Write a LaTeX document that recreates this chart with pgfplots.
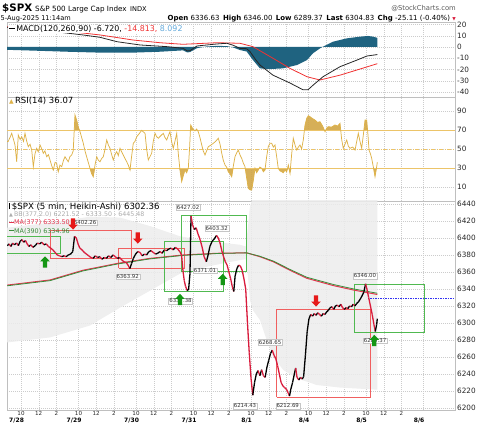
\documentclass[border=0pt]{standalone}
\usepackage{fontspec}
\setmainfont{DejaVu Sans}
\usepackage{pgfplots}
\usepackage{pgfplotstable}
\pgfplotsset{compat=1.18}
\usepgfplotslibrary{fillbetween}

\definecolor{hared}{RGB}{216,27,60}
\definecolor{mared}{RGB}{228,52,78}
\definecolor{magreen}{RGB}{58,140,58}
\definecolor{bbfill}{RGB}{236,236,236}
\definecolor{boxred}{RGB}{240,95,95}
\definecolor{boxgreen}{RGB}{80,185,80}
\definecolor{arrred}{RGB}{230,25,25}
\definecolor{arrgreen}{RGB}{20,150,20}
\definecolor{rsigold}{RGB}{222,178,72}
\definecolor{rsifill}{RGB}{210,166,70}
\definecolor{rsiline}{RGB}{236,196,105}
\definecolor{macdblue}{RGB}{31,99,128}
\definecolor{sigred}{RGB}{240,50,50}
\definecolor{histtxt}{RGB}{100,170,220}
\definecolor{lblue}{RGB}{50,50,240}

\newcommand{\fs}[1]{\fontsize{#1}{#1}\selectfont}

\pgfplotstableread{
x y
-1.085 58
-0.97 57.7
-0.75 62
-0.55 66.5
-0.35 60
-0.18 54.2
0.01 36.6
0.19 64.7
0.4 60
0.58 62.9
0.78 58
0.95 66.5
1.15 58
1.32 52.4
1.52 55
1.71 48.9
1.89 31.4
2.08 45
2.27 50.7
2.45 47
2.65 54.2
2.85 50
3.02 45.5
3.2 48
3.40 41.9
3.6 44
3.78 38.4
3.95 33
4.15 27.9
4.35 36
4.53 34.9
4.71 26.1
4.9 33
5.10 31.4
5.3 38
5.47 41.9
5.66 39
5.84 36.6
6.03 42
6.23 43.7
6.4 48
6.60 85.8
6.79 80.5
6.98 73
7.17 68.2
7.36 62
7.54 56
7.73 48
7.92 41.9
8.1 36
8.30 29.7
8.48 24
8.67 20.8
8.86 33
9.06 41.9
9.25 38
9.43 36.6
9.62 40
9.80 41.9
10.0 50
10.19 59.5
10.38 54
10.56 50.7
10.75 44
10.93 38.4
11.12 44
11.32 47.2
11.5 43
11.69 50.7
11.88 47
12.06 43.7
12.25 40
12.45 36.6
12.63 33
12.82 27.9
13.0 42
13.19 56
13.38 58
13.58 62.9
13.85 66
14.14 69.6
14.33 68
14.52 66.5
14.7 50
14.89 38.4
15.08 42
15.27 45.5
15.45 58
15.65 66.5
15.83 63
16.02 61.3
16.3 64
16.58 66.5
16.78 62
16.97 59.5
17.15 64
17.34 68.2
17.52 58
17.71 50.7
17.9 58
18.10 66.5
18.28 45
18.47 27.9
18.66 15.6
18.85 22
19.04 27.9
19.22 25
19.41 29.7
19.55 50
19.68 75.3
19.9 71.5
20.17 69
20.35 71
20.54 68.2
20.73 62
20.93 54.2
21.1 48
21.30 43.7
21.48 48
21.67 52.4
21.95 54
22.24 56
22.5 58
22.80 61.3
23.0 55
23.19 45.5
23.37 38
23.56 33.2
23.75 30.8
23.93 26.1
24.12 24
24.32 20.8
24.5 32
24.69 41.9
24.88 46
25.06 48.9
25.26 43.7
25.45 40
25.64 35
25.82 31.4
26.0 20
26.19 8.6
26.4 7
26.58 6.8
26.78 18
26.95 29.7
27.13 25
27.32 27.9
27.5 31
27.71 29.7
27.9 26
28.08 27.9
28.27 42
28.45 52.4
28.65 56
28.84 56
29.02 52
29.21 54.2
29.4 42
29.58 29.7
29.78 27
29.97 26.1
30.15 25
30.34 27.9
30.53 26
30.72 33.2
30.91 24.4
31.1 45
31.28 61.3
31.48 54
31.67 48.9
31.85 52
32.04 54.2
32.22 50
32.41 59.5
32.6 75
32.80 82.3
32.98 85
33.17 84
33.45 82
33.73 80.5
34.0 78
34.30 78.7
34.6 74
34.87 68.2
35.05 72
35.24 73.5
35.6 73
36.0 75.3
36.28 74
36.56 77
36.75 60
36.93 50.7
37.12 55
37.32 59.5
37.5 53
37.69 50.7
38.0 52
38.26 48.9
38.45 58
38.63 66.5
38.82 58
39.01 50.7
39.2 65
39.39 80.5
39.58 80.5
39.72 65
39.84 48.9
40.0 45
40.14 40.2
40.33 31
40.52 20.8
40.65 28
40.78 36.07
}\rsitable

\pgfdeclareplotmark{uarr}{%
  \pgfpathmoveto{\pgfqpoint{0pt}{5.6pt}}%
  \pgfpathlineto{\pgfqpoint{4.8pt}{0.6pt}}%
  \pgfpathlineto{\pgfqpoint{2.1pt}{0.6pt}}%
  \pgfpathlineto{\pgfqpoint{2.1pt}{-5.6pt}}%
  \pgfpathlineto{\pgfqpoint{-2.1pt}{-5.6pt}}%
  \pgfpathlineto{\pgfqpoint{-2.1pt}{0.6pt}}%
  \pgfpathlineto{\pgfqpoint{-4.8pt}{0.6pt}}%
  \pgfpathclose\pgfusepathqfill}
\pgfdeclareplotmark{darr}{%
  \pgfpathmoveto{\pgfqpoint{0pt}{-5.6pt}}%
  \pgfpathlineto{\pgfqpoint{4.8pt}{-0.6pt}}%
  \pgfpathlineto{\pgfqpoint{2.1pt}{-0.6pt}}%
  \pgfpathlineto{\pgfqpoint{2.1pt}{5.6pt}}%
  \pgfpathlineto{\pgfqpoint{-2.1pt}{5.6pt}}%
  \pgfpathlineto{\pgfqpoint{-2.1pt}{-0.6pt}}%
  \pgfpathlineto{\pgfqpoint{-4.8pt}{-0.6pt}}%
  \pgfpathclose\pgfusepathqfill}

\tikzset{plbl/.style={fill=white, draw=gray!45, line width=0.3pt, inner sep=0.8pt, font=\fs{5.4}, text=black!80}}
\pgfplotsset{
  panel/.style={
    scale only axis, width=448pt,
    xmin=-1.085, xmax=49.56,
    axis line style={draw=gray!50, line width=0.5pt},
    grid=major,
    grid style={draw=gray!40, line width=0.4pt, dash pattern=on 0.8pt off 1.2pt},
    major tick length=0pt,
    xtick={0.5,2.5,4.5,7,9,11,13.5,15.5,17.5,20,22,24,26.5,28.5,30.5,33,35,37,39.5,41.5,43.5,46},
    yticklabel pos=right,
    yticklabel style={font=\fs{7.3}, text=black!85, inner sep=2pt},
    /pgf/number format/assume math mode=true,
    /pgf/number format/1000 sep={},
  },
}

\begin{document}
\begin{tikzpicture}
\path (0pt,0pt) rectangle (480pt,423pt);

% ---------------- header ----------------
\node[anchor=base west, inner sep=0] at (2pt,411.3pt) {\fs{10.3}\bfseries \$SPX};
\node[anchor=base west, inner sep=0] at (35pt,411.3pt) {\fs{7.2}S\&P 500 Large Cap Index};
\node[anchor=base west, inner sep=0] at (130pt,411.3pt) {\fs{6.6}INDX};
\node[anchor=base east, inner sep=0, text=black!65] at (456pt,412.5pt) {\fs{6.8}@StockCharts.com};
\node[anchor=base west, inner sep=0] at (0.5pt,402.3pt) {\fs{6.6}5-Aug-2025 11:14am};
\node[anchor=base east, inner sep=0] at (456pt,402.3pt) {\fs{7}\textbf{Open} 6336.63\enspace\textbf{High} 6346.00\enspace\textbf{Low} 6289.37\enspace\textbf{Last} 6304.83\enspace\textbf{Chg} -25.11 (-0.40\%) \textcolor{hared}{\fs{4.5}▼}};

% ---------------- MACD panel ----------------
\begin{axis}[panel, at={(7pt,326pt)}, anchor=south west, height=75pt,
  ymin=-44.4, ymax=22.2, ytick={-40,-30,-20,-10,0,10,20}, xticklabels={}]
\addplot[name path=zero, draw=none] coordinates {(-1.1,0) (40.78,0)};
\addplot[name path=hist, draw=none] coordinates {
(-1.1,-2.5) (1.0,-3) (3.0,-3.5) (5.7,-4.2) (9.43,-5) (13.16,-5) (16.21,-4.2) (18.81,-3)
(19.3,-4.8) (19.6,-4.5) (20.4,-1) (21.5,0.5) (22.65,1) (23.78,0.8) (24.5,-0.5) (25.25,-2.7)
(26.0,-4) (26.72,-11.6) (27.51,-19) (28.65,-19.6) (30.1,-19) (31.7,-16) (32.83,-11.6)
(33.5,-5.6) (34.3,-1.2) (34.64,0.3) (35.77,4.7) (37.35,7.7) (38.82,9.2) (39.73,9.8) (40.3,9.2) (40.78,8.1)};
\addplot[macdblue] fill between[of=hist and zero];
\addplot[sigred, line width=0.8pt] coordinates {
(-1.1,18) (3.0,15) (6.83,13) (9.43,10.7) (13.16,6.2) (16.21,3.8) (18.81,2.4) (22.65,3.8)
(25.25,3.3) (26.72,0.3) (28.98,-10) (30.91,-19) (32.83,-26.4) (34.3,-29.3) (36.56,-25)
(38.48,-20.4) (40.78,-14.81)};
\addplot[black!85, line width=0.8pt] coordinates {
(-1.1,17.5) (2.0,15.5) (4.34,13.6) (7.5,10.7) (9.43,8.6) (11.35,4.7) (13.95,1.8) (17.0,0.3)
(18.81,-1.2) (19.3,-3.5) (19.6,-3.3) (20.39,0.9) (21.52,1.8) (22.65,2.7) (23.78,3.3)
(24.5,1.5) (25.25,-1.2) (26.0,-1.5) (26.38,-4) (27.0,-11) (27.51,-16) (28.98,-25)
(30.91,-32) (32.38,-38) (32.94,-38) (33.5,-34) (34.64,-26.4) (36.56,-17.5) (38.48,-11.6)
(39.61,-8) (40.78,-6.72)};
\node[anchor=west, fill=white, inner sep=0.8pt] at (axis cs:-0.97,16) {\fs{7.9}\rule[2.3pt]{6pt}{1.3pt}\,MACD(120,260,90) -6.720, \textcolor{sigred}{-14.813,} \textcolor{histtxt}{8.092}};
\end{axis}

% ---------------- RSI panel ----------------
\begin{axis}[panel, at={(7pt,222pt)}, anchor=south west, height=104pt,
  ymin=-4.7, ymax=104.7, ytick={10,30,50,70,90}, xticklabels={}]
\addplot[name path=l70, rsiline, line width=0.8pt] coordinates {(-1.085,70) (49.56,70)};
\addplot[name path=l30, rsiline, line width=0.8pt] coordinates {(-1.085,30) (49.56,30)};
\addplot[rsiline, line width=0.8pt, dash pattern=on 4pt off 1.5pt on 1pt off 1.5pt] coordinates {(-1.085,50) (49.56,50)};
\addplot[name path=rsi, rsigold, line width=0.75pt] table[x=x, y=y] {\rsitable};
\addplot[name path=rsilow, draw=none, y filter/.expression={min(y,30)}] table[x=x, y=y] {\rsitable};
\addplot[rsifill] fill between[of=rsi and l70, split,
  every even segment/.style={fill opacity=0}, every odd segment/.style={fill opacity=0.9}];
\addplot[rsifill, fill opacity=0.9] fill between[of=rsilow and l30];
\node[anchor=west, inner sep=0.8pt] at (axis cs:-0.97,100.5) {\fs{8.5}\textcolor{rsigold}{\fs{6}▲}\,RSI(14) 36.07};
\end{axis}

% ---------------- Price panel ----------------
\begin{axis}[panel, at={(7pt,13pt)}, anchor=south west, height=209pt,
  ymin=6197.6, ymax=6443.5, ytick={6200,6220,6240,6260,6280,6300,6320,6340,6360,6380,6400,6420,6440},
  xticklabels={10,12,2,10,12,2,10,12,2,10,12,2,10,12,2,10,12,2,10,12,2,{}},
  xticklabel style={font=\fs{5.6}, text=black!85, inner sep=1.2pt}]
% Bollinger Bands
\addplot[name path=bbu, draw=none] coordinates {
(-1.1,6412) (3.78,6418) (8.3,6425) (11.69,6424) (15.08,6414) (18.47,6402) (21.86,6396)
(25.25,6392) (25.9,6390) (26.15,6412) (26.38,6437) (26.72,6448) (27.51,6455) (28.27,6470)
(29.02,6484) (30.15,6487) (31.66,6479) (33.93,6469) (36.56,6458) (40.78,6445.5)};
\addplot[name path=bbl, draw=none] coordinates {
(-1.1,6277) (3.78,6283) (8.3,6297) (11.69,6318) (15.08,6338) (18.47,6358) (21.86,6367)
(25.25,6374) (25.9,6375) (26.15,6355) (26.38,6327) (26.72,6315) (27.51,6303.5) (28.27,6280)
(29.02,6260) (30.15,6244.7) (31.66,6235) (33.93,6227) (36.56,6224) (40.78,6221.5)};
\addplot[bbfill, fill opacity=0.85] fill between[of=bbu and bbl];
% boxes
\addplot[boxgreen, line width=0.8pt] coordinates {(-1.9,6382) (4.91,6382) (4.91,6401.5) (-1.9,6401.5)};
\addplot[boxred, line width=0.8pt] coordinates {(3.78,6376.1) (12.99,6376.1) (12.99,6409.4) (3.78,6409.4) (3.78,6376.1)};
\addplot[boxred, line width=0.8pt] coordinates {(11.52,6364.7) (18.98,6364.7) (18.98,6388.2) (11.52,6388.2) (11.52,6364.7)};
\addplot[boxgreen, line width=0.8pt] coordinates {(16.72,6336.8) (23.33,6336.8) (23.33,6395.9) (16.72,6395.9) (16.72,6336.8)};
\addplot[boxgreen, line width=0.8pt] coordinates {(18.66,6360.4) (25.99,6360.4) (25.99,6426.7) (18.66,6426.7) (18.66,6360.4)};
\addplot[boxred, line width=0.8pt] coordinates {(29.4,6212.6) (40.03,6212.6) (40.03,6316.1) (29.4,6316.1) (29.4,6212.6)};
\addplot[boxgreen, line width=0.8pt] coordinates {(38.18,6289.1) (46.09,6289.1) (46.09,6345.5) (38.18,6345.5) (38.18,6289.1)};
% moving averages
\addplot[mared, line width=1pt] coordinates {
(-1.1,6344.5) (3.78,6350.6) (7.5,6362) (11.35,6370) (15.08,6376) (18.81,6380) (22.65,6382)
(26.0,6382.5) (27.5,6378) (29.02,6372) (30.9,6362) (32.8,6352.6) (35.8,6344) (38.06,6338.8) (40.78,6333.5)};
\addplot[magreen, line width=0.8pt] coordinates {
(-1.1,6343.7) (3.78,6349.8) (7.5,6361.2) (11.35,6369.3) (15.08,6375.4) (18.81,6379.5) (22.65,6381.7)
(26.0,6382.5) (27.5,6378.5) (29.02,6372.8) (30.9,6363) (32.8,6353.8) (35.8,6345.3) (38.06,6340.1) (40.78,6334.96)};
% blue dashed level
\addplot[lblue, line width=0.5pt, dash pattern=on 1.5pt off 1pt] coordinates {(39.72,6329) (49.6,6329)};
% price (Heikin-Ashi, black = rising, red = falling)
\addplot[mesh, shader=flat corner, point meta=explicit, point meta min=0, point meta max=1,
  colormap={harb}{rgb255(0cm)=(216,27,60) rgb255(1cm)=(0,0,0)}, line width=1.3pt, no marks]
  table[x=x, y=y, meta=c] {
x y c
-1.05 6391 1
-0.85 6393 0
-0.65 6390 1
-0.45 6394 0
-0.25 6392 1
0.0 6394 0
0.2 6391 1
0.4 6396 1
0.6 6398 0
0.8 6395 1
1.0 6397 0
1.2 6393 0
1.4 6390 1
1.6 6392 0
1.85 6389 1
2.1 6391 1
2.35 6394 0
2.6 6393 1
2.85 6395 0
3.1 6392 1
3.35 6393 0
3.6 6390 0
3.85 6388 0
4.1 6386 0
4.35 6383 0
4.6 6380 0
4.85 6379 0
5.1 6378 1
5.35 6379 0
5.6 6378 1
5.85 6380 1
6.1 6381 1
6.35 6384 1
6.55 6402 0
6.75 6400 0
6.95 6393 0
7.15 6388 0
7.4 6386 0
7.65 6383 0
7.9 6381 0
8.15 6379 0
8.4 6377 0
8.65 6376 1
8.9 6379 0
9.15 6377 1
9.4 6378 0
9.65 6375 1
9.9 6377 0
10.15 6376 1
10.4 6379 0
10.65 6377 1
10.9 6380 0
11.15 6378 0
11.4 6376 1
11.65 6377 0
11.9 6374 0
12.15 6372 0
12.4 6371 0
12.6 6368 0
12.8 6364 1
13.0 6370 1
13.2 6376 1
13.45 6381 1
13.7 6384 0
13.95 6383 0
14.2 6379 1
14.45 6381 0
14.7 6380 1
14.95 6384 1
15.2 6385 0
15.45 6383 0
15.7 6381 1
15.95 6382 1
16.2 6384 0
16.45 6382 1
16.7 6386 0
16.95 6385 1
17.2 6387 1
17.45 6388 0
17.7 6386 1
17.95 6389 0
18.2 6387 0
18.45 6384 0
18.65 6380 0
18.8 6362 0
18.95 6350 0
19.1 6343 0
19.3 6338 1
19.45 6340 1
19.6 6358 1
19.72 6426 0
19.9 6415 0
20.1 6410 1
20.3 6412 0
20.5 6405 0
20.75 6398 0
21.0 6388 0
21.2 6378 0
21.45 6372 1
21.65 6380 1
21.85 6390 1
22.1 6396 1
22.35 6399 1
22.6 6403 0
22.8 6400 0
23.0 6394 0
23.2 6385 0
23.4 6378 0
23.6 6372 0
23.8 6368 0
24.0 6360 0
24.2 6352 0
24.4 6342 0
24.55 6337 1
24.7 6355 1
24.9 6364 1
25.1 6368 0
25.3 6367 0
25.5 6362 0
25.7 6352 0
25.9 6340 0
26.1 6300 0
26.3 6265 0
26.5 6235 0
26.7 6215 1
26.9 6230 1
27.1 6240 1
27.3 6244 0
27.5 6238 1
27.7 6245 0
27.9 6238 0
28.1 6236 1
28.3 6248 1
28.5 6256 1
28.7 6264 1
28.9 6268 0
29.1 6262 0
29.3 6258 0
29.5 6250 0
29.7 6240 0
29.9 6230 0
30.1 6226 0
30.3 6224 0
30.5 6222 0
30.7 6218 0
30.85 6214 1
31.0 6222 1
31.2 6230 1
31.4 6240 1
31.55 6247 0
31.7 6236 0
31.9 6233 1
32.1 6236 0
32.3 6234 1
32.45 6237 1
32.65 6262 1
32.85 6290 1
33.05 6305 1
33.25 6310 0
33.45 6308 1
33.65 6311 0
33.85 6309 1
34.05 6312 0
34.25 6310 0
34.45 6308 1
34.65 6311 0
34.85 6310 1
35.05 6313 1
35.25 6315 1
35.45 6318 1
35.65 6319 0
35.85 6316 1
36.05 6320 1
36.25 6321 0
36.45 6319 1
36.65 6322 0
36.85 6318 0
37.05 6316 1
37.25 6318 0
37.45 6317 1
37.65 6320 0
37.85 6319 1
38.05 6322 0
38.25 6320 1
38.45 6323 1
38.65 6325 1
38.85 6328 1
39.05 6332 1
39.25 6336 1
39.45 6346 0
39.6 6340 0
39.8 6330 0
40.0 6320 0
40.2 6310 0
40.4 6298 0
40.55 6290 1
40.7 6298 1
40.78 6305 1
};
% price labels
\node[plbl] at (axis cs:7.75,6418.2) {6402.26};
\node[plbl] at (axis cs:19.38,6435.9) {6427.02};
\node[plbl] at (axis cs:22.62,6411.4) {6403.32};
\node[plbl] at (axis cs:12.56,6354.5) {6363.92};
\node[plbl] at (axis cs:21.3,6361.5) {6371.01};
\node[plbl] at (axis cs:18.53,6325.9) {6337.38};
\node[plbl] at (axis cs:39.38,6355.3) {6346.00};
\node[plbl] at (axis cs:28.65,6277.3) {6268.65};
\node[plbl] at (axis cs:25.82,6202.4) {6214.43};
\node[plbl] at (axis cs:30.65,6202.4) {6212.69};
\node[plbl] at (axis cs:40.52,6279.2) {6289.37};
% legend
\node[anchor=west, inner sep=0.5pt] at (axis cs:-0.92,6437.06) {\fs{8.6}\rule{1.3pt}{6pt}\,\$SPX (5 min, Heikin-Ashi) 6302.36};
\node[anchor=west, inner sep=0.5pt, text=gray!65] at (axis cs:-0.92,6427.65) {\fs{6.3}{\fs{5}▲}\,BB(377,2.0) 6221.52 - 6333.50 - 6445.48};
\node[anchor=west, inner sep=0.5pt, text=mared] at (axis cs:-0.92,6417.9) {\fs{6.4}\rule[1.9pt]{5pt}{1.1pt}MA(377) 6333.50};
\node[anchor=west, inner sep=0.5pt, text=magreen] at (axis cs:-0.92,6408.2) {\fs{6.4}\rule[1.9pt]{5pt}{1.1pt}MA(390) 6334.96};
% signal arrows
\addplot[arrred, only marks, mark=darr] coordinates {(6.38,6416.5) (13.7,6400) (33.85,6325.9)};
\addplot[arrgreen, only marks, mark=uarr] coordinates {(3.21,6371.8) (18.47,6327.6) (23.3,6351.2) (40.44,6279.4)};
\end{axis}

% dates under the time axis (cut by the page edge as in the original)
\foreach \px/\d in {16.6/7\slash28, 74.1/7\slash29, 131.6/7\slash30, 189.1/7\slash31, 246.6/8\slash1, 304.1/8\slash4, 361.6/8\slash5, 419.1/8\slash6}
  \node[overlay, anchor=north, inner sep=0pt, font=\fs{6}\bfseries] at (\px pt,5pt) {\d};
\end{tikzpicture}
\end{document}
